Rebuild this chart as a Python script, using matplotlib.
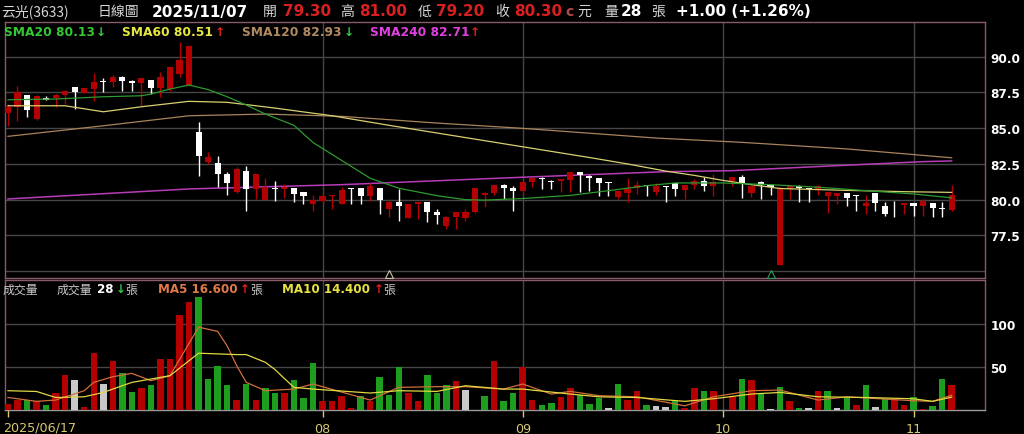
import numpy as np
import matplotlib
matplotlib.use("Agg")
import matplotlib.pyplot as plt

CJK = ["Noto Sans CJK TC", "DejaVu Sans"]
nan = np.nan

# daily candles 2025/06/17 .. 2025/11/07 (slot 75 is blank in the chart)
opens = [86.06, 86.46, 87.32, 85.64, 87.09, 87.09, 87.34, 87.86, 87.46, 87.74,
         88.25, 88.21, 88.60, 88.32, 88.16, 88.37, 87.79, 87.74, 88.79, 88.02,
         84.71, 82.66, 82.55, 81.80, 80.52, 82.03, 80.75, 80.00, 80.82, 80.73,
         80.82, 80.52, 79.70, 79.89, 80.24, 79.70, 80.80, 80.80, 80.28, 80.82,
         79.35, 79.82, 78.72, 79.70, 79.82, 79.16, 78.18, 78.77, 78.72, 79.12,
         80.33, 80.47, 81.05, 80.82, 80.63, 81.26, 81.54, 81.33, 81.33, 81.40,
         81.92, 81.68, 81.52, 81.24, 80.21, 80.47, 80.80, 81.03, 80.52, 80.96,
         81.17, 80.70, 81.03, 81.28, 80.98, nan, 81.33, 81.57, 80.50, 81.26,
         81.05, 75.40, 80.75, 80.98, 80.82, 80.70, 80.24, 80.28, 80.45, 80.33,
         79.54, 80.47, 79.54, 79.65, 79.65, 79.77, 79.54, 79.77, 79.37, 79.30]
highs = [86.69, 87.97, 87.35, 87.30, 87.23, 87.36, 87.69, 87.88, 87.80, 88.86,
         88.49, 88.72, 88.62, 88.35, 88.50, 88.40, 88.95, 89.30, 91.00, 90.80,
         85.41, 83.31, 83.08, 81.92, 82.30, 82.38, 81.82, 81.50, 81.33, 81.10,
         80.85, 80.55, 80.33, 80.40, 80.35, 80.90, 80.82, 80.82, 81.20, 80.85,
         80.05, 80.75, 79.72, 79.85, 79.85, 79.35, 78.88, 79.15, 79.35, 80.85,
         80.55, 81.05, 81.08, 80.98, 81.25, 81.52, 81.56, 81.36, 81.47, 81.94,
         81.94, 81.70, 81.55, 81.26, 80.62, 81.50, 81.30, 81.05, 81.20, 80.98,
         81.20, 81.05, 81.45, 81.57, 81.80, nan, 81.60, 81.73, 81.00, 81.30,
         81.07, 80.90, 80.96, 81.00, 80.84, 81.00, 80.55, 80.50, 80.47, 80.35,
         80.33, 80.50, 79.82, 79.93, 79.80, 79.80, 80.05, 79.80, 79.82, 81.00]
lows = [85.13, 85.52, 85.76, 85.60, 86.99, 86.46, 86.69, 86.34, 87.45, 86.92,
        87.55, 87.86, 87.62, 87.62, 86.57, 87.39, 87.16, 87.60, 88.56, 88.00,
        81.68, 82.50, 80.87, 80.33, 80.50, 79.23, 80.05, 80.00, 79.93, 80.10,
        79.82, 79.70, 79.23, 79.85, 79.35, 79.70, 79.70, 79.70, 79.90, 79.00,
        78.77, 78.53, 78.70, 78.65, 78.42, 78.30, 77.95, 77.95, 78.50, 79.10,
        79.47, 80.30, 80.05, 79.23, 80.35, 80.87, 80.75, 80.75, 80.52, 80.52,
        80.52, 80.63, 80.24, 80.24, 80.05, 79.82, 80.40, 80.28, 80.30, 79.82,
        80.28, 80.05, 80.75, 80.63, 80.24, nan, 80.98, 80.10, 80.20, 80.05,
        80.33, 75.40, 80.05, 79.82, 79.82, 80.33, 79.07, 79.70, 79.54, 79.23,
        79.00, 79.23, 78.84, 78.77, 79.00, 78.88, 78.88, 78.77, 78.77, 79.20]
closes = [86.46, 87.51, 86.27, 87.27, 86.99, 87.34, 87.58, 87.55, 87.79, 88.21,
          88.21, 88.60, 88.32, 88.18, 88.49, 87.79, 88.60, 89.26, 89.77, 90.73,
          83.08, 83.01, 81.80, 81.15, 82.15, 80.75, 81.80, 80.87, 80.73, 80.89,
          80.40, 80.28, 80.00, 80.24, 80.33, 80.68, 80.73, 80.28, 80.98, 80.00,
          79.82, 79.54, 79.70, 79.82, 79.12, 78.93, 78.77, 79.12, 79.16, 80.80,
          80.47, 81.03, 80.82, 80.63, 81.22, 81.50, 81.42, 81.26, 81.45, 81.92,
          81.73, 81.54, 81.17, 81.20, 80.59, 80.75, 81.05, 80.94, 80.94, 80.92,
          80.75, 81.03, 81.33, 80.98, 81.22, nan, 81.57, 81.17, 80.98, 81.03,
          80.91, 80.85, 80.94, 80.80, 80.78, 80.98, 80.52, 80.47, 80.12, 80.24,
          79.77, 79.77, 79.00, 79.60, 79.77, 79.54, 79.93, 79.40, 79.33, 80.30]

volumes = [6, 11, 11, 10, 5, 19, 40, 34, 3, 66,
           30, 56, 43, 20, 25, 29, 59, 59, 110, 125,
           131, 36, 51, 28, 11, 30, 11, 25, 19, 19,
           34, 13, 54, 10, 10, 16, 2, 16, 10, 38,
           17, 50, 19, 10, 40, 19, 29, 33, 23, nan,
           16, 56, 10, 19, 50, 11, 5, 7, 14, 25,
           17, 6, 13, 2, 30, 11, 21, 5, 4, 3,
           10, 2, 25, 21, 21, nan, 16, 36, 34, 18,
           1, 26, 10, 2, 2, 21, 21, 2, 13, 5,
           29, 3, 12, 12, 5, 14, 1, 4, 36, 28]
# r = up, g = down, n = unchanged, - = no bar drawn
vol_dir = ("rrgrgrrnrr" "nrggrgrrrr" "ggggrgrggr" "gggrrrrgrg" "ggrrgggrn-"
           "grggrrggrr" "gggngrrgnn" "grrgr-rgrg" "ngrgnrgngr" "gngrrgrggr")

# moving averages (bar index, value)
sma20_i = [0, 5, 10, 14, 15, 17, 19, 21, 23, 25, 27, 30, 32, 35, 38, 41, 45, 48,
           50, 54, 59, 63, 67, 70, 75, 80, 85, 90, 95, 99]
sma20_v = [86.99, 87.04, 87.2, 87.27, 87.39, 87.74, 88.02, 87.7, 87.2, 86.62,
           85.99, 85.2, 84.0, 82.75, 81.5, 80.8, 80.28, 80.0, 79.97, 80.08, 80.3,
           80.63, 80.98, 81.17, 81.17, 81.05, 80.87, 80.63, 80.4, 80.13]
sma60_i = [0, 6, 10, 14, 19, 23, 28, 34, 40, 47, 54, 61, 65, 69, 72, 75, 78, 81,
           88, 94, 99]
sma60_v = [86.57, 86.57, 86.15, 86.5, 86.88, 86.81, 86.41, 85.87, 85.2, 84.45,
           83.7, 82.95, 82.5, 82.0, 81.7, 81.35, 81.05, 80.78, 80.65, 80.56, 80.51]
sma120_i = [0, 10, 19, 27, 35, 45, 54, 68, 77, 88, 99]
sma120_v = [84.43, 85.17, 85.87, 85.99, 85.83, 85.36, 84.99, 84.31, 84.01, 83.55,
            82.93]
sma240_i = [0, 19, 35, 54, 69, 76, 87, 96, 99]
sma240_v = [80.05, 80.75, 81.05, 81.57, 81.96, 82.03, 82.38, 82.66, 82.71]

ma5_i = [0, 3, 5, 8, 9, 11, 13, 15, 17, 20, 22, 23, 24, 25, 27, 30, 32, 38, 41,
         45, 48, 52, 54, 57, 59, 62, 66, 71, 74, 78, 81, 85, 88, 95, 97, 99]
ma5_v = [14, 9.5, 11, 21.9, 31.6, 38.2, 42.1, 33.6, 39.4, 96, 91, 74, 51, 31.6,
         21.9, 23.8, 29.7, 11, 25.8, 26.6, 26.6, 23.8, 29.7, 18, 21.1, 16.1, 14.8,
         4.3, 14.8, 21.9, 22.7, 11, 14.8, 10.2, 9.5, 16.6]
ma10_i = [0, 3, 5, 8, 10, 13, 17, 20, 24, 25, 27, 28, 29, 30, 32, 38, 41, 45, 48,
          52, 54, 59, 62, 66, 71, 74, 78, 81, 85, 90, 95, 97, 99]
ma10_v = [21.9, 21, 14, 14.8, 19.9, 31.6, 39.4, 65.6, 64, 64, 55, 46.7, 36.1,
          25.8, 23.8, 19.2, 21.9, 21.1, 27.7, 23.8, 23.8, 18, 14.8, 14, 9.5, 12.5,
          18, 19.9, 14.8, 14, 12.5, 9.5, 14.4]

month_pos = [33, 54, 75, 95]
month_lbl = ["08", "09", "10", "11"]
price_ticks = [77.5, 80.0, 82.5, 85.0, 87.5, 90.0]
price_grid = [75.0] + price_ticks
vol_ticks = [50, 100]

RED = "#b40000"
GREEN = "#1e9e1e"
GRID = "#474747"
BORDER = "#8a5a6c"
W, H = 1024, 435


def px(x, y):
    return x / W, 1 - y / H


fig = plt.figure(figsize=(W / 100, H / 100), dpi=100, facecolor="black")
ax_p = fig.add_axes([5 / W, (H - 279) / H, 980 / W, 256 / H], facecolor="black")
ax_v = fig.add_axes([5 / W, (H - 410.5) / H, 980 / W, 130 / H], facecolor="black")

x = np.arange(len(closes))
o = np.array(opens); c = np.array(closes); hi = np.array(highs); lo = np.array(lows)
ok = ~np.isnan(c)
up = c >= o

# price panel
ax_p.vlines(x[ok & up], lo[ok & up], hi[ok & up], color=RED, lw=1, zorder=3)
ax_p.vlines(x[ok & ~up], lo[ok & ~up], hi[ok & ~up], color="white", lw=1, zorder=3)
body_lo = np.minimum(o, c)
body_h = np.maximum(np.abs(c - o), 0.06)
ax_p.bar(x[ok & up], body_h[ok & up], bottom=body_lo[ok & up], width=0.64,
         color=RED, zorder=4)
ax_p.bar(x[ok & ~up], body_h[ok & ~up], bottom=body_lo[ok & ~up], width=0.64,
         color="white", zorder=4)

ax_p.plot(sma120_i, sma120_v, color="#a8845c", lw=0.9, zorder=2)
ax_p.plot(sma240_i, sma240_v, color="#b83cb8", lw=1.1, zorder=2)
ax_p.plot(sma60_i, sma60_v, color="#d8d070", lw=0.9, zorder=5)
ax_p.plot(sma20_i, sma20_v, color="#2f9a2f", lw=0.9, zorder=5)

ax_p.plot([40], [74.8], marker="^", mfc="none", mec="#c8c8a0", ms=6, mew=0.8,
          clip_on=False, zorder=6)
ax_p.plot([80], [74.8], marker="^", mfc="none", mec="#2e9b5e", ms=6, mew=0.8,
          clip_on=False, zorder=6)

for g in price_grid:
    ax_p.axhline(g, color=GRID, lw=1, zorder=1)
ax_p.set_xlim(-0.31, 102.5)
ax_p.set_ylim(74.52, 92.43)
ax_p.set_yticks(price_ticks)
ax_p.set_yticklabels([f"{t:.1f}" for t in price_ticks])
ax_p.set_xticks([])

# volume panel
vols = np.array(volumes, dtype=float)
vcol = {"r": RED, "g": GREEN, "n": "#c8c8c8"}
for i, (v, d) in enumerate(zip(vols, vol_dir)):
    if d == "-" or np.isnan(v):
        continue
    ax_v.bar(i, v, width=0.68, color=vcol[d], zorder=3)
ax_v.plot(ma5_i, ma5_v, color="#d0703a", lw=0.9, zorder=4)
ax_v.plot(ma10_i, ma10_v, color="#e0d840", lw=0.9, zorder=4)
for g in vol_ticks:
    ax_v.axhline(g, color=GRID, lw=1, zorder=1)
ax_v.set_xlim(-0.31, 102.5)
ax_v.set_ylim(0, 151.5)
ax_v.set_yticks(vol_ticks)
ax_v.set_yticklabels([str(t) for t in vol_ticks])
ax_v.set_xticks([0] + month_pos)
ax_v.set_xticklabels([""] + month_lbl)
ax_v.tick_params(axis="x", colors="#d8c870", length=5, width=1, labelsize=9.2, pad=4)

for ax in (ax_p, ax_v):
    ax.yaxis.tick_right()
    ax.tick_params(axis="y", length=0, pad=4, labelcolor="white", labelsize=8.7)
    for lbl in ax.get_yticklabels():
        lbl.set_fontweight("bold")
    for m in month_pos:
        ax.axvline(m, color=GRID, lw=1, zorder=1)
    for s in ax.spines.values():
        s.set_color(BORDER)
        s.set_linewidth(1)
ax_v.spines["bottom"].set_color("#9a9a9a")

fig.text(*px(3, 428), "2025/06/17", color="#d8c870", fontsize=9.2, va="center")

# header row
GREY = "#d6d6d6"
TXTRED = "#d82020"
hdr = [
    (1, "云光(3633)", GREY, "normal", 10, CJK),
    (98, "日線圖", GREY, "normal", 10, CJK),
    (152, "2025/11/07", "white", "bold", 11, None),
    (263, "開", GREY, "normal", 10, CJK),
    (283, "79.30", TXTRED, "bold", 11, None),
    (340, "高", GREY, "normal", 10, CJK),
    (359, "81.00", TXTRED, "bold", 11, None),
    (418, "低", GREY, "normal", 10, CJK),
    (436, "79.20", TXTRED, "bold", 11, None),
    (495, "收", GREY, "normal", 10, CJK),
    (514, "80.30", TXTRED, "bold", 11, None),
    (565, "c", "#b04848", "bold", 10, None),
    (577, "元", GREY, "normal", 10, CJK),
    (604, "量", GREY, "normal", 10, CJK),
    (621, "28", "white", "bold", 11, None),
    (651, "張", GREY, "normal", 10, CJK),
    (676, "+1.00 (+1.26%)", "white", "bold", 11, None),
]
for xx, s, col, wt, fs, fam in hdr:
    kw = {"family": fam} if fam else {}
    fig.text(*px(xx, 12), s, color=col, fontweight=wt, fontsize=fs, va="center", **kw)

# moving-average legend
leg = [
    (4, "SMA20 80.13", "#33c833"), (96, "↓", "#2ecc40"),
    (122, "SMA60 80.51", "#e6e640"), (215, "↑", "#e02020"),
    (242, "SMA120 82.93", "#b08a60"), (344, "↓", "#2ecc40"),
    (370, "SMA240 82.71", "#e040e0"), (470, "↑", "#e02020"),
]
for xx, s, col in leg:
    fig.text(*px(xx, 32), s, color=col, fontweight="bold", fontsize=8.8, va="center")

vleg = [
    (3, "成交量", "#c8c8c8", "normal", CJK), (57, "成交量", "#c8c8c8", "normal", CJK),
    (97, "28", "white", "bold", None), (116, "↓", "#2ecc40", "bold", None),
    (125, "張", "#c8c8c8", "normal", CJK),
    (158, "MA5 16.600", "#e07a4a", "bold", None), (240, "↑", "#e02020", "bold", None),
    (250, "張", "#c8c8c8", "normal", CJK),
    (282, "MA10 14.400", "#e6e040", "bold", None), (374, "↑", "#e02020", "bold", None),
    (383, "張", "#c8c8c8", "normal", CJK),
]
for xx, s, col, wt, fam in vleg:
    kw = {"family": fam} if fam else {}
    fig.text(*px(xx, 290), s, color=col, fontweight=wt, fontsize=8.6, va="center", **kw)

fig.savefig("out.png", dpi=100, facecolor="black")
